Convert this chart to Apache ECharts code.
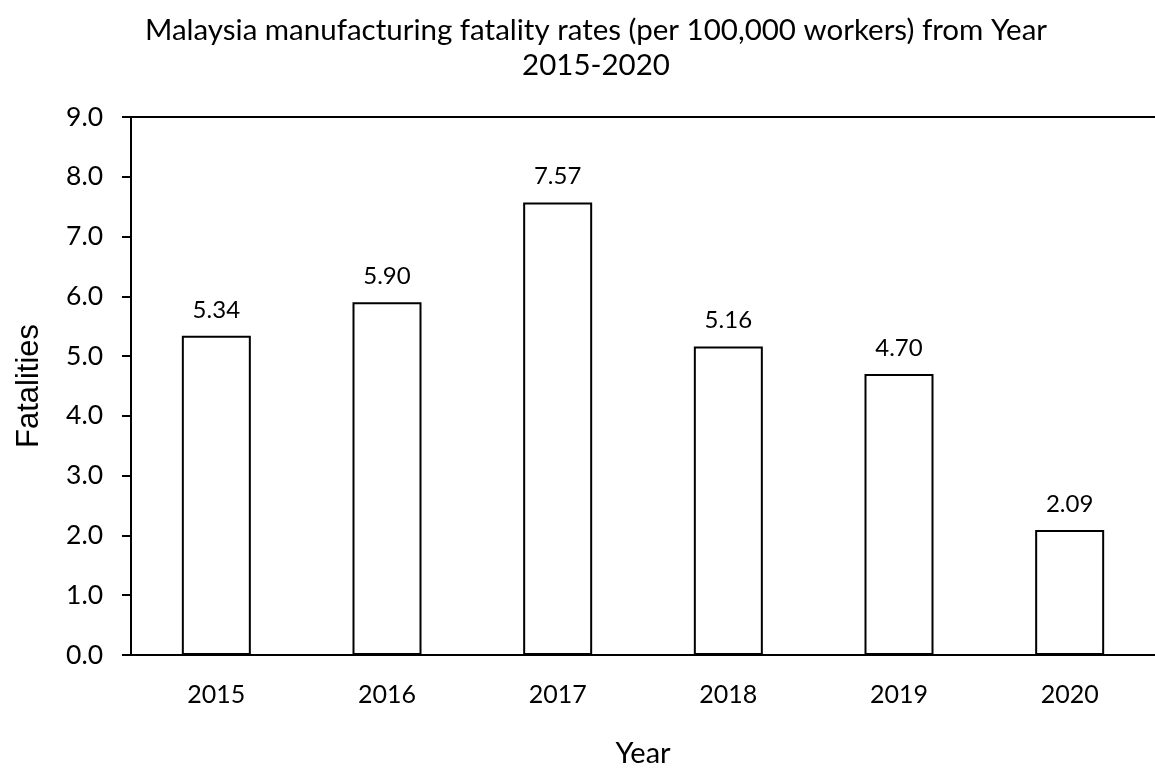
<!DOCTYPE html>
<html>
<head>
<meta charset="utf-8">
<script src="https://cdn.jsdelivr.net/npm/echarts@6/dist/echarts.min.js"></script>
<style>html,body{margin:0;padding:0;background:#fff;}#c{width:1155px;height:773px;}</style>
</head>
<body>
<div id="c"></div>
<script>
const categories = ['2015', '2016', '2017', '2018', '2019', '2020'];
const fatalityRates = [5.34, 5.90, 7.57, 5.16, 4.70, 2.09];
const yMin = 0, yMax = 9, yStep = 1;

const chart = echarts.init(document.getElementById('c'));
chart.setOption({
  animation: false,
  backgroundColor: '#ffffff',
  title: {
    text: 'Malaysia manufacturing fatality rates (per 100,000 workers) from Year\n2015-2020',
    left: 591,
    top: 8,
    textAlign: 'center',
    textStyle: { fontFamily: 'Lato', fontSize: 29.5, fontWeight: 'normal', color: '#000', lineHeight: 35 }
  },
  grid: { left: 131, right: -8, top: 117, bottom: 112, containLabel: false },
  xAxis: [{
    type: 'category',
    data: categories,
    position: 'bottom',
    axisLine: { show: true, lineStyle: { color: '#000', width: 2 } },
    axisTick: { show: false },
    axisLabel: { fontFamily: 'Lato', fontSize: 25, color: '#000', margin: 27 },
    name: 'Year',
    nameLocation: 'middle',
    nameGap: 84,
    nameTextStyle: { fontFamily: 'Lato', fontSize: 29, color: '#000' }
  }, {
    type: 'category',
    data: categories,
    position: 'top',
    axisLine: { show: true, lineStyle: { color: '#000', width: 2 } },
    axisTick: { show: false },
    axisLabel: { show: false }
  }],
  yAxis: {
    type: 'value',
    min: yMin,
    max: yMax,
    interval: yStep,
    axisLine: { show: true, lineStyle: { color: '#000', width: 2 } },
    axisTick: { show: true, inside: false, length: 9, lineStyle: { color: '#000', width: 2 } },
    splitLine: { show: false },
    axisLabel: { fontFamily: 'Lato', fontSize: 26.5, color: '#000', margin: 28, formatter: v => v.toFixed(1) },
    name: 'Fatalities',
    nameLocation: 'middle',
    nameGap: 86,
    nameTextStyle: { fontFamily: 'Liberation Sans', fontSize: 31, color: '#000' }
  },
  series: [{
    type: 'bar',
    data: fatalityRates,
    barWidth: 69,
    itemStyle: { color: '#fff', borderColor: '#000', borderWidth: 2 },
    label: {
      show: true,
      position: 'top',
      distance: 14,
      fontFamily: 'Lato',
      fontSize: 24,
      color: '#000',
      formatter: p => p.value.toFixed(2)
    }
  }]
});
</script>
</body>
</html>
